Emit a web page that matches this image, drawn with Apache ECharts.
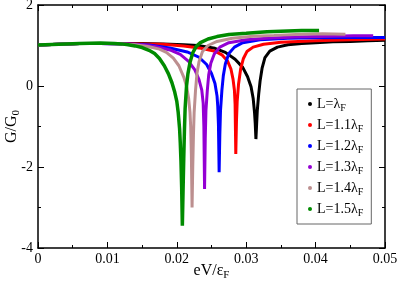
<!DOCTYPE html>
<html>
<head>
<meta charset="utf-8">
<script src="https://cdn.jsdelivr.net/npm/echarts@6/dist/echarts.min.js"></script>
<style>
html,body{margin:0;padding:0;background:#fff;}
#c{width:399px;height:285px;}
</style>
</head>
<body>
<div id="c"></div>
<script>
// ---- data ----
const seriesNames = ['L=λ', 'L=1.1λ', 'L=1.2λ', 'L=1.3λ', 'L=1.4λ', 'L=1.5λ'];
const seriesSub = 'F';
const seriesColors = ['#000000', '#ff0000', '#0000ff', '#9400d3', '#bc8f8f', '#008b00'];

const blackX = [0, 0.003, 0.006, 0.009, 0.012, 0.015, 0.018, 0.021, 0.023, 0.0255, 0.027, 0.0284, 0.0295, 0.0302, 0.0307, 0.0310, 0.0312, 0.0313, 0.0314, 0.0315, 0.0316, 0.0318, 0.0320, 0.0323, 0.0327, 0.0334, 0.0345, 0.036, 0.038, 0.040, 0.0425, 0.045, 0.0475, 0.05];
const blackY = [1.01, 1.03, 1.05, 1.05, 1.05, 1.05, 1.04, 1.02, 1.0, 0.93, 0.83, 0.66, 0.46, 0.23, -0.02, -0.3, -0.65, -0.92, -1.31, -0.95, -0.6, -0.2, 0.12, 0.45, 0.7, 0.86, 0.96, 1.02, 1.05, 1.07, 1.09, 1.1, 1.12, 1.13];

const redX = [0, 0.003, 0.006, 0.009, 0.012, 0.015, 0.018, 0.021, 0.0235, 0.0255, 0.0265, 0.0273, 0.0278, 0.0281, 0.0283, 0.0284, 0.0285, 0.0286, 0.0287, 0.0289, 0.0292, 0.0296, 0.0301, 0.031, 0.0325, 0.035, 0.0375, 0.04, 0.045, 0.05];
const redY = [1.01, 1.03, 1.05, 1.05, 1.05, 1.04, 1.03, 0.99, 0.93, 0.86, 0.77, 0.62, 0.42, 0.17, -0.1, -0.45, -1.68, -0.85, -0.38, 0.05, 0.42, 0.68, 0.85, 0.96, 1.03, 1.08, 1.1, 1.12, 1.14, 1.16];

const blueX = [0, 0.003, 0.006, 0.009, 0.012, 0.014, 0.016, 0.019, 0.0215, 0.0232, 0.0243, 0.025, 0.0255, 0.0258, 0.0259, 0.026, 0.0261, 0.0262, 0.0263, 0.0265, 0.0267, 0.027, 0.0275, 0.0283, 0.0295, 0.032, 0.036, 0.04, 0.045, 0.05];
const blueY = [1.01, 1.03, 1.05, 1.05, 1.04, 1.03, 1.01, 0.94, 0.84, 0.71, 0.53, 0.31, 0.06, -0.25, -0.5, -0.95, -2.13, -1.2, -0.6, -0.1, 0.25, 0.55, 0.8, 0.96, 1.07, 1.14, 1.18, 1.19, 1.2, 1.2];

const purpleX = [0, 0.003, 0.006, 0.009, 0.012, 0.015, 0.017, 0.019, 0.0205, 0.0217, 0.0226, 0.0232, 0.0236, 0.0238, 0.0239, 0.024, 0.0241, 0.0242, 0.0244, 0.0246, 0.0249, 0.0254, 0.0262, 0.0275, 0.03, 0.033, 0.037, 0.042, 0.0455, 0.0483];
const purpleY = [1.01, 1.03, 1.05, 1.05, 1.04, 1.02, 0.97, 0.89, 0.78, 0.61, 0.4, 0.16, -0.1, -0.42, -1.0, -2.54, -1.3, -0.6, -0.1, 0.28, 0.56, 0.79, 0.96, 1.07, 1.14, 1.18, 1.21, 1.23, 1.24, 1.24];

const pinkX = [0, 0.003, 0.006, 0.009, 0.012, 0.014, 0.016, 0.0175, 0.0185, 0.0195, 0.0203, 0.021, 0.0214, 0.0217, 0.0219, 0.022, 0.0221, 0.0222, 0.0223, 0.0224, 0.0225, 0.0227, 0.0229, 0.0232, 0.0237, 0.0245, 0.0258, 0.028, 0.031, 0.034, 0.038, 0.041, 0.0443];
const pinkY = [1.01, 1.03, 1.05, 1.05, 1.04, 1.02, 0.97, 0.91, 0.83, 0.69, 0.5, 0.22, 0.0, -0.3, -0.65, -1.0, -1.7, -3.0, -2.0, -1.2, -0.65, -0.1, 0.3, 0.6, 0.85, 1.0, 1.1, 1.18, 1.23, 1.25, 1.28, 1.29, 1.28];

const greenX = [0, 0.003, 0.006, 0.009, 0.011, 0.012, 0.013, 0.014, 0.015, 0.016, 0.0168, 0.0175, 0.0182, 0.0188, 0.0193, 0.0197, 0.02, 0.0202, 0.0204, 0.0205, 0.0206, 0.0207, 0.0208, 0.0209, 0.021, 0.0211, 0.0212, 0.0214, 0.0216, 0.0219, 0.0223, 0.0228, 0.0234, 0.0245, 0.0258, 0.0275, 0.03, 0.033, 0.036, 0.038, 0.0405];
const greenY = [1.01, 1.03, 1.05, 1.06, 1.05, 1.04, 1.02, 0.99, 0.95, 0.88, 0.8, 0.68, 0.5, 0.3, 0.08, -0.15, -0.38, -0.65, -1.05, -1.4, -1.85, -2.5, -3.45, -2.6, -1.8, -1.1, -0.55, 0.0, 0.3, 0.58, 0.82, 0.98, 1.07, 1.16, 1.22, 1.27, 1.3, 1.34, 1.36, 1.37, 1.37];

const xTicks = { min: 0, max: 0.05, interval: 0.01 };
const yTicks = { min: -4, max: 2, interval: 2 };

// ---- chart ----
const allX = [blackX, redX, blueX, purpleX, pinkX, greenX];
const allY = [blackY, redY, blueY, purpleY, pinkY, greenY];
const SERIF = 'Liberation Serif';

function pairs(xs, ys) { return xs.map((x, i) => [x, ys[i]]); }

const series = seriesNames.map((n, i) => ({
  name: n,
  type: 'line',
  data: pairs(allX[i], allY[i]),
  showSymbol: false,
  symbol: 'circle',
  lineStyle: { color: seriesColors[i], width: i === 5 ? 3.5 : 3 },
  itemStyle: { color: seriesColors[i] },
  emphasis: { disabled: true },
  animation: false,
  z: 2 + i
}));

const tickCommon = {
  axisLine: { show: true, onZero: false, lineStyle: { color: '#000', width: 1.5 } },
  axisTick: { show: true, inside: true, length: 6, lineStyle: { color: '#000', width: 1 } },
  minorTick: { show: true, splitNumber: 2, length: 3, lineStyle: { color: '#000', width: 1 } },
  splitLine: { show: false },
  minorSplitLine: { show: false }
};
const labelStyle = { color: '#000', fontFamily: SERIF, fontSize: 14 };

const chart = echarts.init(document.getElementById('c'), null, { renderer: 'canvas' });
chart.setOption({
  animation: false,
  backgroundColor: '#fff',
  grid: { left: 38, right: 14, top: 5, bottom: 37, containLabel: false, outerBoundsMode: 'none' },
  xAxis: [
    Object.assign({
      type: 'value', position: 'bottom',
      min: xTicks.min, max: xTicks.max, interval: xTicks.interval,
      axisLabel: Object.assign({ margin: 4 }, labelStyle),
      name: '{t|eV/ε}{s|F}', nameLocation: 'middle', nameGap: 14, nameMoveOverlap: false,
      nameTextStyle: { rich: {
        t: { fontFamily: SERIF, fontSize: 16, color: '#000', lineHeight: 18 },
        s: { fontFamily: SERIF, fontSize: 11, color: '#000', lineHeight: 18, padding: [9, 0, 0, 0] }
      } }
    }, tickCommon),
    Object.assign({
      type: 'value', position: 'top',
      min: xTicks.min, max: xTicks.max, interval: xTicks.interval,
      axisLabel: { show: false }
    }, tickCommon)
  ],
  yAxis: [
    Object.assign({
      type: 'value', position: 'left',
      min: yTicks.min, max: yTicks.max, interval: yTicks.interval,
      axisLabel: Object.assign({ margin: 5 }, labelStyle),
      name: '{t|G/G}{s|0}', nameLocation: 'middle', nameGap: 17, nameRotate: 90, nameMoveOverlap: false,
      nameTextStyle: { rich: {
        t: { fontFamily: SERIF, fontSize: 16, color: '#000', lineHeight: 18 },
        s: { fontFamily: SERIF, fontSize: 11, color: '#000', lineHeight: 18, padding: [9, 0, 0, 0] }
      } }
    }, tickCommon),
    Object.assign({
      type: 'value', position: 'right',
      min: yTicks.min, max: yTicks.max, interval: yTicks.interval,
      axisLabel: { show: false }
    }, tickCommon)
  ],
  legend: {
    orient: 'vertical',
    left: 297, top: 89,
    padding: [6, 8, 6, 11],
    itemGap: 3,
    itemWidth: 4, itemHeight: 4,
    icon: 'circle',
    borderColor: '#666', borderWidth: 1,
    backgroundColor: '#fff',
    selectedMode: false,
    data: seriesNames.map((n, i) => ({ name: n, itemStyle: { color: seriesColors[i] } })),
    formatter: (name) => '{t|' + name + '}{s|' + seriesSub + '}',
    textStyle: { rich: {
      t: { fontFamily: SERIF, fontSize: 14, color: '#000', lineHeight: 16 },
      s: { fontFamily: SERIF, fontSize: 10, color: '#000', lineHeight: 16, padding: [8, 0, 0, 0] }
    } }
  },
  series: series
});
</script>
</body>
</html>
